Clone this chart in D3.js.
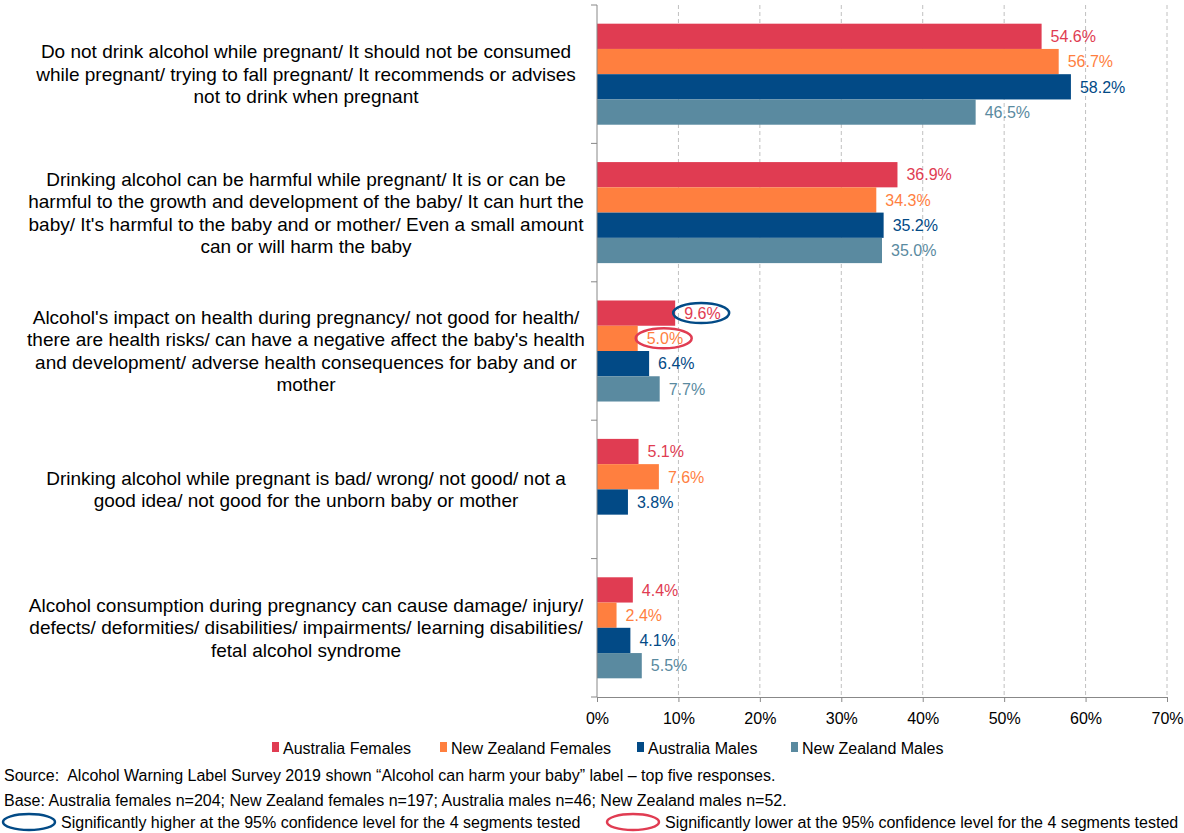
<!DOCTYPE html>
<html lang="en">
<head>
    <meta charset="utf-8">
    <style type="text/css">
        body { margin: 0; background-color: #fff; }
        svg { display: block; font-family: "Liberation Sans", Arial, sans-serif; }
        .grid line { stroke: #c0c0c0; stroke-dasharray: 4,3; }
        .cat text { font-size: 19px; fill: #000; }
        .val { font-size: 16px; }
        .foot { font-size: 16px; fill: #000; white-space: pre; }
    </style>
    <script src="https://d3js.org/d3.v7.min.js"></script>
    <title>Alcohol can harm your baby</title>
</head>
<body>
    <div id="canvas"></div>
    <script type="text/JavaScript">

        // categories, one array of lines each
        var categories = [
            ["Do not drink alcohol while pregnant/ It should not be consumed", "while pregnant/ trying to fall pregnant/ It recommends or advises", "not to drink when pregnant"],
            ["Drinking alcohol can be harmful while pregnant/ It is or can be", "harmful to the growth and development of the baby/ It can hurt the", "baby/ It's harmful to the baby and or mother/ Even a small amount", "can or will harm the baby"],
            ["Alcohol's impact on health during pregnancy/ not good for health/", "there are health risks/ can have a negative affect the baby's health", "and development/ adverse health consequences for baby and or", "mother"],
            ["Drinking alcohol while pregnant is bad/ wrong/ not good/ not a", "good idea/ not good for the unborn baby or mother"],
            ["Alcohol consumption during pregnancy can cause damage/ injury/", "defects/ deformities/ disabilities/ impairments/ learning disabilities/", "fetal alcohol syndrome"]
        ];

        var seriesNames = ["Australia Females", "New Zealand Females", "Australia Males", "New Zealand Males"];
        var seriesColors = ["#e03c52", "#ff7f3f", "#024a86", "#5a8aa0"];

        var auFemales = [54.6, 36.9, 9.6, 5.1, 4.4];
        var nzFemales = [56.7, 34.3, 5.0, 7.6, 2.4];
        var auMales = [58.2, 35.2, 6.4, 3.8, 4.1];
        var nzMales = [46.5, 35.0, 7.7, null, 5.5];
        var seriesValues = [auFemales, nzFemales, auMales, nzMales];

        var xTicks = [0, 10, 20, 30, 40, 50, 60, 70];

        // significance markers: [category index, series index]
        var sigHigher = [[2, 0]];
        var sigLower = [[2, 1]];

        var width = 1184, height = 833;
        var plotLeft = 597, plotRight = 1167, plotTop = 5, plotBottom = 697;

        var svg = d3.select("#canvas")
            .append("svg")
            .attr("width", width)
            .attr("height", height);

        var x = d3.scaleLinear().domain([0, 70]).range([plotLeft, plotRight]);
        var y = d3.scaleBand().domain(d3.range(categories.length))
            .range([plotTop, plotBottom]).paddingInner(0.27).paddingOuter(0.135);
        var ySub = d3.scaleBand().domain(d3.range(seriesNames.length)).range([0, y.bandwidth()]);
        var step = y.step();

        //gridlines
        svg.append("g").attr("class", "grid")
            .selectAll("line").data(xTicks.slice(1)).enter().append("line")
            .attr("x1", function(d) { return x(d); })
            .attr("x2", function(d) { return x(d); })
            .attr("y1", plotTop).attr("y2", plotBottom);

        //bars
        var rows = [];
        categories.forEach(function(c, ci) {
            seriesValues.forEach(function(s, si) {
                if (s[ci] != null) rows.push({ c: ci, s: si, v: s[ci] });
            });
        });

        svg.append("g").selectAll("rect").data(rows).enter().append("rect")
            .attr("x", x(0))
            .attr("y", function(d) { return y(d.c) + ySub(d.s); })
            .attr("width", function(d) { return x(d.v) - x(0); })
            .attr("height", ySub.bandwidth())
            .attr("fill", function(d) { return seriesColors[d.s]; });

        svg.append("g").selectAll("text").data(rows).enter().append("text")
            .attr("class", "val")
            .attr("x", function(d) { return x(d.v) + 9; })
            .attr("y", function(d) { return y(d.c) + ySub(d.s) + ySub.bandwidth() / 2; })
            .attr("dy", "0.36em")
            .attr("fill", function(d) { return seriesColors[d.s]; })
            .text(function(d) { return d.v.toFixed(1) + "%"; });

        //significance ellipses
        function ellipses(list, color) {
            svg.append("g").selectAll("ellipse").data(list).enter().append("ellipse")
                .attr("cx", function(d) { return x(seriesValues[d[1]][d[0]]) + 26; })
                .attr("cy", function(d) { return y(d[0]) + ySub(d[1]) + ySub.bandwidth() / 2; })
                .attr("rx", 28).attr("ry", 10)
                .attr("fill", "none").attr("stroke", color).attr("stroke-width", 2.5);
        }
        ellipses(sigHigher, "#024a86");
        ellipses(sigLower, "#e03c52");

        //axes
        var xAxis = svg.append("g").attr("transform", "translate(0," + plotBottom + ")")
            .call(d3.axisBottom(x).tickValues(xTicks).tickSize(5).tickFormat(function(d) { return d + "%"; }));
        xAxis.select(".domain").attr("stroke", "#888");
        xAxis.selectAll(".tick line").attr("stroke", "#888");
        xAxis.selectAll("text").attr("font-size", 16).attr("font-family", "Liberation Sans, Arial").attr("dy", "1.2em").attr("fill", "#000");

        var yEdges = d3.range(categories.length + 1).map(function(i) { return plotTop + i * step; });
        svg.append("line").attr("x1", plotLeft).attr("x2", plotLeft)
            .attr("y1", plotTop).attr("y2", plotBottom).attr("stroke", "#888");
        svg.append("g").selectAll("line").data(yEdges).enter().append("line")
            .attr("x1", plotLeft - 6).attr("x2", plotLeft)
            .attr("y1", function(d) { return d; }).attr("y2", function(d) { return d; })
            .attr("stroke", "#888");

        //category labels
        var lineH = 22.5;
        var cat = svg.append("g").attr("class", "cat");
        categories.forEach(function(lines, ci) {
            var cy = y(ci) + y.bandwidth() / 2;
            var t = cat.append("text").attr("text-anchor", "middle");
            lines.forEach(function(l, li) {
                t.append("tspan")
                    .attr("x", 306)
                    .attr("y", cy + (li - (lines.length - 1) / 2) * lineH)
                    .attr("dy", "0.35em")
                    .text(l);
            });
        });

        //legend
        var legendX = [272, 440, 637, 791];
        var legend = svg.append("g").selectAll("g").data(seriesNames).enter().append("g")
            .attr("transform", function(d, i) { return "translate(" + legendX[i] + ",748)"; });
        legend.append("rect").attr("x", 0).attr("y", -6).attr("width", 7).attr("height", 10)
            .attr("fill", function(d, i) { return seriesColors[i]; });
        legend.append("text").attr("class", "foot").attr("x", 11).attr("y", 0).attr("dy", "0.35em")
            .text(function(d) { return d; });

        //footnotes
        svg.append("text").attr("class", "foot").attr("x", 4).attr("y", 775).attr("dy", "0.35em")
            .text("Source:  Alcohol Warning Label Survey 2019 shown \u201cAlcohol can harm your baby\u201d label \u2013 top five responses.");
        svg.append("text").attr("class", "foot").attr("x", 4).attr("y", 800).attr("dy", "0.35em")
            .text("Base: Australia females n=204; New Zealand females n=197; Australia males n=46; New Zealand males n=52.");

        var keys = [
            { x: 29, color: "#024a86", label: "Significantly higher at the 95% confidence level for the 4 segments tested" },
            { x: 633, color: "#e03c52", label: "Significantly lower at the 95% confidence level for the 4 segments tested" }
        ];
        var key = svg.append("g").selectAll("g").data(keys).enter().append("g");
        key.append("ellipse").attr("cx", function(d) { return d.x; }).attr("cy", 822)
            .attr("rx", 26).attr("ry", 8).attr("fill", "none")
            .attr("stroke", function(d) { return d.color; }).attr("stroke-width", 2.5);
        key.append("text").attr("class", "foot").attr("x", function(d) { return d.x + 32; })
            .attr("y", 822).attr("dy", "0.35em").text(function(d) { return d.label; });

    </script>
</body>
</html>
